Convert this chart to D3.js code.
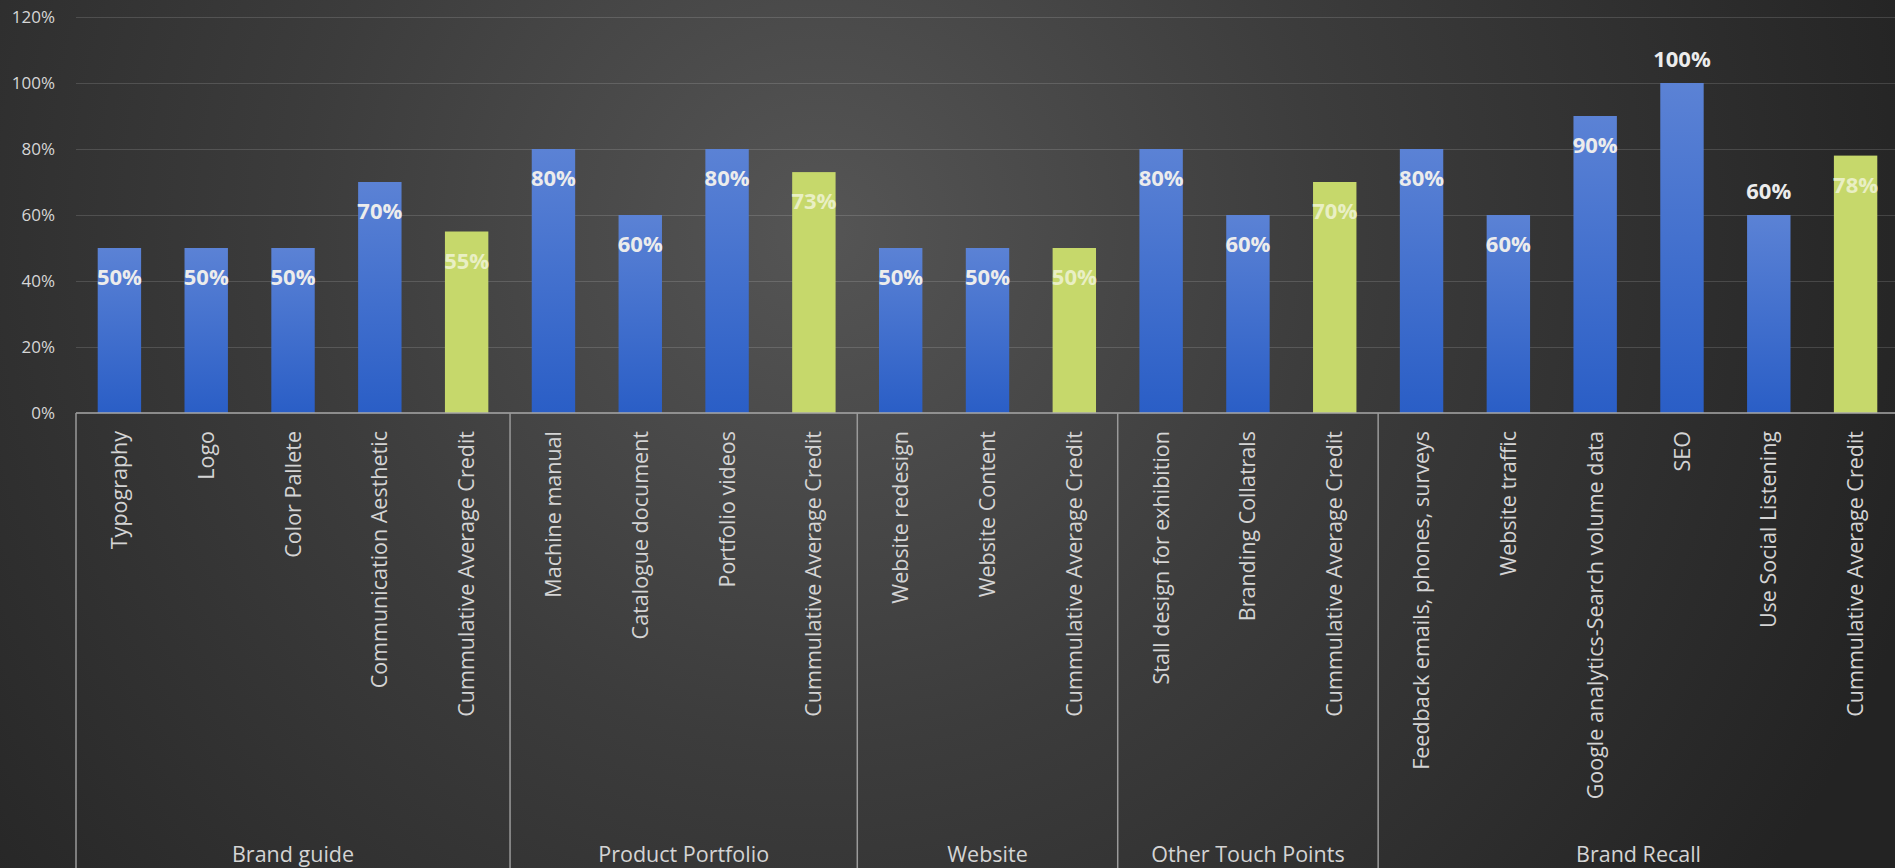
<!DOCTYPE html>
<html>
<head>
<meta charset="utf-8">
<script src="https://cdn.jsdelivr.net/npm/d3@7/dist/d3.min.js"></script>
<style>
  html, body { margin: 0; padding: 0; background: #2b2b2b; overflow: hidden; }
  text { font-family: "Open Sans", "DejaVu Sans", sans-serif; }
</style>
</head>
<body>
<div id="chart"></div>
<script>
"use strict";

// groups along the bottom, and what sits in each one
var groupNames = ["Brand guide", "Product Portfolio", "Website", "Other Touch Points", "Brand Recall"];

var brandGuide = ["Typography", "Logo", "Color Pallete", "Communication Aesthetic", "Cummulative Average Credit"];
var productPortfolio = ["Machine manual", "Catalogue document", "Portfolio videos", "Cummulative Average Credit"];
var website = ["Website redesign", "Website Content", "Cummulative Average Credit"];
var otherTouchPoints = ["Stall design for exhibition", "Branding Collatrals", "Cummulative Average Credit"];
var brandRecall = ["Feedback emails, phones, surveys", "Website traffic", "Google analytics-Search volume data", "SEO", "Use Social Listening", "Cummulative Average Credit"];

// scores (fraction), same order as above
var brandGuideValues = [0.50, 0.50, 0.50, 0.70, 0.55];
var productPortfolioValues = [0.80, 0.60, 0.80, 0.73];
var websiteValues = [0.50, 0.50, 0.50];
var otherTouchPointsValues = [0.80, 0.60, 0.70];
var brandRecallValues = [0.80, 0.60, 0.90, 1.00, 0.60, 0.78];

var yTicks = [0, 0.2, 0.4, 0.6, 0.8, 1.0, 1.2];

// these two get their label above the bar instead of inside
var labelAbove = ["SEO", "Use Social Listening"];
var averageName = "Cummulative Average Credit";

var groupCats = [brandGuide, productPortfolio, website, otherTouchPoints, brandRecall];
var groupVals = [brandGuideValues, productPortfolioValues, websiteValues, otherTouchPointsValues, brandRecallValues];

// flatten into one list of bars
var bars = [];
groupNames.forEach(function(g, gi) {
  groupCats[gi].forEach(function(c, ci) {
    bars.push({ key: g + "|" + c, group: g, name: c, value: groupVals[gi][ci] });
  });
});

var W = 1895, H = 868;
var margin = { top: 17, left: 76, right: -4, bottom: 455 };
var plotBottom = H - margin.bottom;   // 413

var svg = d3.select("#chart").append("svg")
  .attr("width", W)
  .attr("height", H);

var defs = svg.append("defs");

var bg = defs.append("radialGradient")
  .attr("id", "bg")
  .attr("gradientUnits", "userSpaceOnUse")
  .attr("cx", 820).attr("cy", 230).attr("r", 1150);
bg.append("stop").attr("offset", "0%").attr("stop-color", "#555555");
bg.append("stop").attr("offset", "45%").attr("stop-color", "#3c3c3c");
bg.append("stop").attr("offset", "100%").attr("stop-color", "#232323");

var blue = defs.append("linearGradient")
  .attr("id", "blueBar")
  .attr("x1", 0).attr("y1", 0).attr("x2", 0).attr("y2", 1);
blue.append("stop").attr("offset", "0%").attr("stop-color", "#5b82d5");
blue.append("stop").attr("offset", "100%").attr("stop-color", "#2a5ec6");

svg.append("rect")
  .attr("width", W).attr("height", H)
  .attr("fill", "url(#bg)");

var x = d3.scaleBand()
  .domain(bars.map(function(d) { return d.key; }))
  .range([margin.left, W - margin.right])
  .paddingInner(0.5)
  .paddingOuter(0.25);

var y = d3.scaleLinear()
  .domain([0, 1.2])
  .range([plotBottom, margin.top]);

// y axis + gridlines
var yAxis = svg.append("g")
  .attr("transform", "translate(" + margin.left + ",0)")
  .call(d3.axisLeft(y)
    .tickValues(yTicks)
    .tickFormat(d3.format(".0%"))
    .tickSize(-(W - margin.left))
    .tickPadding(21));

yAxis.select(".domain").remove();
yAxis.selectAll(".tick line")
  .attr("stroke", "#ffffff")
  .attr("stroke-opacity", function(d) { return d === 0 ? 0 : 0.14; });
yAxis.selectAll(".tick text")
  .attr("fill", "#d6d6d6")
  .attr("font-size", "17px")
  .attr("font-family", "'Open Sans', sans-serif");

// bars
svg.selectAll(".bar")
  .data(bars)
  .enter().append("rect")
  .attr("class", "bar")
  .attr("x", function(d) { return x(d.key); })
  .attr("y", function(d) { return y(d.value); })
  .attr("width", x.bandwidth())
  .attr("height", function(d) { return y(0) - y(d.value); })
  .attr("fill", function(d) { return d.name === averageName ? "#c6d86b" : "url(#blueBar)"; });

// value labels
svg.selectAll(".val")
  .data(bars)
  .enter().append("text")
  .attr("class", "val")
  .attr("x", function(d) { return x(d.key) + x.bandwidth() / 2; })
  .attr("y", function(d) {
    return labelAbove.indexOf(d.name) >= 0 ? y(d.value) - 25 : y(d.value) + 28;
  })
  .attr("text-anchor", "middle")
  .attr("dominant-baseline", "central")
  .attr("font-size", "22px")
  .attr("font-weight", "bold")
  .attr("fill", function(d) { return d.name === averageName ? "#e9efc4" : "#ececec"; })
  .text(function(d) { return d3.format(".0%")(d.value); });

// baseline
svg.append("line")
  .attr("x1", margin.left).attr("x2", W)
  .attr("y1", y(0)).attr("y2", y(0))
  .attr("stroke", "#a8a8a8")
  .attr("stroke-width", 1.5);

// category labels, rotated
svg.selectAll(".cat")
  .data(bars)
  .enter().append("text")
  .attr("class", "cat")
  .attr("transform", function(d) {
    return "translate(" + (x(d.key) + x.bandwidth() / 2) + "," + (y(0) + 18) + ") rotate(-90)";
  })
  .attr("text-anchor", "end")
  .attr("dy", "0.35em")
  .attr("font-size", "21.5px")
  .attr("fill", "#d4d4d4")
  .text(function(d) { return d.name; });

// group boxes: vertical dividers + group names
var half = (x.step() - x.bandwidth()) / 2;
var groups = groupNames.map(function(g, gi) {
  var first = g + "|" + groupCats[gi][0];
  var last = g + "|" + groupCats[gi][groupCats[gi].length - 1];
  return { name: g, x0: x(first) - half, x1: x(last) + x.bandwidth() + half };
});

svg.selectAll(".divider")
  .data(groups)
  .enter().append("line")
  .attr("class", "divider")
  .attr("x1", function(d) { return d.x0; })
  .attr("x2", function(d) { return d.x0; })
  .attr("y1", y(0))
  .attr("y2", H)
  .attr("stroke", "#9a9a9a")
  .attr("stroke-width", 1.5);

svg.selectAll(".grp")
  .data(groups)
  .enter().append("text")
  .attr("class", "grp")
  .attr("x", function(d) { return (d.x0 + d.x1) / 2; })
  .attr("y", 862)
  .attr("text-anchor", "middle")
  .attr("font-size", "21.5px")
  .attr("fill", "#d4d4d4")
  .text(function(d) { return d.name; });
</script>
</body>
</html>
